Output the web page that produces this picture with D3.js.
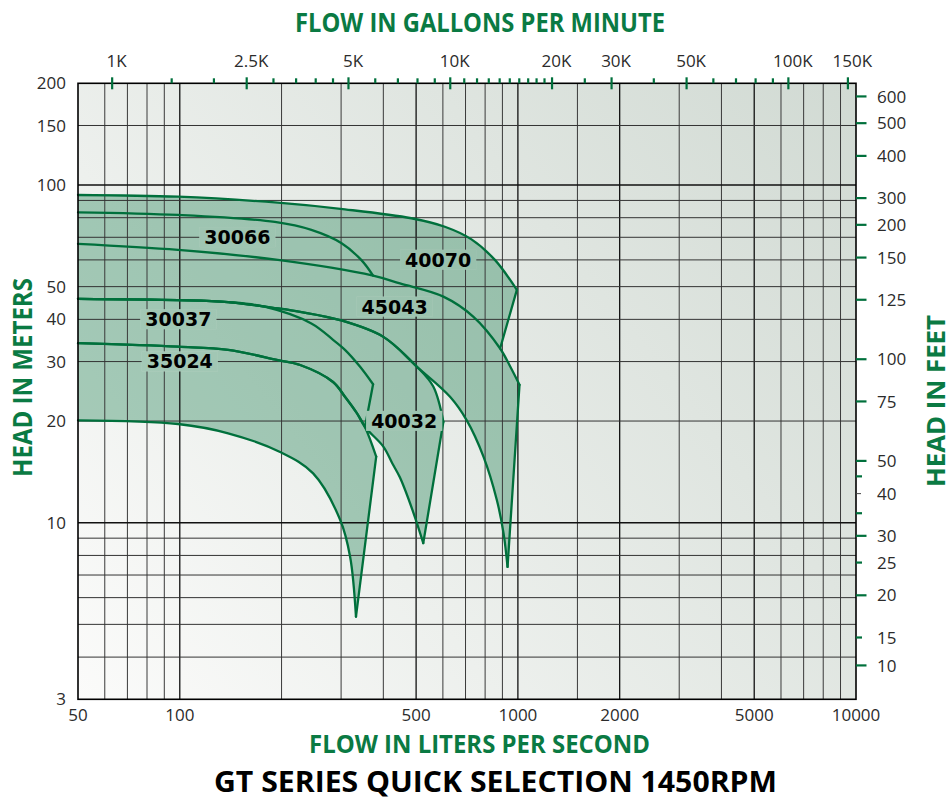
<!DOCTYPE html>
<html><head><meta charset="utf-8">
<script src="https://cdn.jsdelivr.net/npm/d3@7"></script>
<style>body{margin:0;background:#fff} svg{display:block}</style>
</head><body>
<svg id="chart" width="951" height="800"></svg>
<script>
// ---------------- DATA ----------------
const flowTicksLps = [50, 100, 500, 1000, 2000, 5000, 10000];
const headTicksM = [200, 150, 100, 50, 40, 30, 20, 10, 3];
const gridFlowLps = [60,70,80,90,100,200,300,400,500,600,700,800,900,1000,1500,2000,3000,4000,5000,6000,7000,8000,9000];
const gridHeadM = [150,100,90,80,70,60,50,40,30,20,10,9,8,7,6,5,4];
const gpmMajor = [1000, 2500, 5000, 10000, 20000, 30000, 50000, 100000, 150000];
const gpmMajorLabels = ["1K","2.5K","5K","10K","20K","30K","50K","100K","150K"];
const gpmMinor = [1500,2000,3000,3500,4000,4500,6000,7000,8000,9000,11000,12000,13000,14000,15000,16000,17000,18000,19000,25000,40000,60000,70000,80000,90000];
// right axis: where each label sits (in feet, as drawn) and its printed text
const feetTickAt = [600, 500, 400, 300, 250, 200, 150, 100, 75, 50, 45, 40, 35, 30, 25, 20, 15, 12.4];
const feetTickLabels = ["600","500","400","300","200","150","125","100","75","50","","40","","30","25","20","15","10"];

// pump curves: [flow L/s, head m]
const max40070 = [[50,93.4],[98.8,92.3],[195,88.6],[308,84.7],[484,79.7],[608,75.2],[729,69.0],[855,60.0],[993,48.9]];
const min40070 = [[50,66.9],[98.8,64.2],[195,60.0],[373,53.9],[448,51.1],[602,46.7],[739,40.7],[886,32.8]];
const max30066 = [[50,83.0],[98.8,81.5],[191,77.7],[245,73.6],[301,67.2],[344,60.0],[373,53.9]];
const min30066 = [[50,66.9],[98.8,64.2],[195,60.0],[373,53.9]];
const max45043 = [[50,66.9],[98.8,64.2],[195,60.0],[373,53.9],[448,51.1],[602,46.7],[739,40.7],[886,32.8],[949,29.0],[1011,25.6]];
const min45043 = [[50,46.0],[98.8,45.6],[139,45.0],[195,43.1],[227,42.1],[298,39.8],[400,35.5],[502,29.0],[630,23.6],[706,20.1],[791,15.7],[866,11.7],[907,9.3],[932,7.4]];
const max30037 = [[50,46.0],[98.8,45.6],[139,45.0],[178,43.6],[245,38.9],[284,34.8],[308,32.5],[341,29.0],[373,25.7]];
const min30037 = [[50,34.0],[98.8,33.2],[139,32.5],[195,30.3],[227,29.3],[284,26.1],[308,23.6],[334,21.1],[353,19.2]];
const max40032 = [[50,46.0],[98.8,45.6],[139,45.0],[195,43.1],[227,42.1],[298,39.8],[400,35.5],[502,29.0],[562,25.3],[602,19.9]];
const min40032 = [[50,34.0],[98.8,33.2],[139,32.5],[195,30.3],[227,29.3],[284,26.1],[308,23.6],[334,21.1],[353,19.2],[400,16.8],[425,15.0],[448,13.6],[491,10.7],[525,8.7]];
const max35024 = [[50,34.0],[98.8,33.2],[139,32.5],[195,30.3],[227,29.3],[284,26.1],[308,23.6],[334,21.1],[353,19.2],[381,15.7]];
const min35024 = [[50,20.1],[98.8,19.6],[139,18.4],[198,16.2],[248,14.0],[298,10.2],[319,7.93],[332,5.27]];

const modelNames = ["40070","30066","45043","30037","40032","35024"];
const labelFlow = [581, 148, 432, 99, 461, 100];
const labelHead = [60, 70, 43.6, 40, 20, 30];

const models = [
  {name:"40070", max:max40070, min:min40070},
  {name:"30066", max:max30066, min:min30066},
  {name:"45043", max:max45043, min:min45043},
  {name:"30037", max:max30037, min:min30037},
  {name:"40032", max:max40032, min:min40032},
  {name:"35024", max:max35024, min:min35024}
];

const titleTop = "FLOW IN GALLONS PER MINUTE";
const titleBottom = "FLOW IN LITERS PER SECOND";
const titleLeft = "HEAD IN METERS";
const titleRight = "HEAD IN FEET";
const mainTitle = "GT SERIES QUICK SELECTION 1450RPM";

// ---------------- DRAW ----------------
const GREEN = "#00703c", TITLE_GREEN = "#0a7a43", FILL_OP = 0.32;
const NUM_FONT = "'Open Sans', 'Noto Sans', sans-serif";
const LPS_PER_GPM = 1 / 15.85;
const M_PER_FT = 0.3048;

const svg = d3.select("#chart");
const x = d3.scaleLog().domain([50, 10000]).range([78, 856]);
const y = d3.scaleLog().domain([3, 200]).range([699.3, 83.3]);
const xG = g => x(g * LPS_PER_GPM);
const yF = f => y(f * M_PER_FT);
const X0 = x(50), X1 = x(10000), Y0 = y(200), Y1 = y(3);

const defs = svg.append("defs");
const grad = defs.append("linearGradient").attr("id","bg").attr("gradientUnits","userSpaceOnUse")
  .attr("x1",X0).attr("y1",Y1).attr("x2",X1).attr("y2",Y0);
grad.append("stop").attr("offset","0%").attr("stop-color","#fbfbfa");
grad.append("stop").attr("offset","100%").attr("stop-color","#d1dad3");

svg.append("rect").attr("x",X0).attr("y",Y0).attr("width",X1-X0).attr("height",Y1-Y0).attr("fill","url(#bg)");

const line = d3.line().x(d => x(d[0])).y(d => y(d[1])).curve(d3.curveCatmullRom.alpha(0.5));

// filled operating regions (union, uniform tint)
const fillG = svg.append("g").attr("opacity", FILL_OP);
models.forEach(m => {
  const top = line(m.max), bot = line(m.min.slice().reverse());
  fillG.append("path").attr("d", top + "L" + bot.slice(1) + "Z").attr("fill", GREEN);
});

// grid
const majorX = new Set([100,500,1000,2000,5000]);
const gridG = svg.append("g");
gridFlowLps.forEach(v => {
  gridG.append("line").attr("x1",x(v)).attr("x2",x(v)).attr("y1",Y0).attr("y2",Y1)
    .attr("stroke", majorX.has(v) ? "#111" : "#3a3a3a").attr("stroke-width", majorX.has(v) ? 1.3 : 1);
});
gridHeadM.forEach(v => {
  gridG.append("line").attr("x1",X0).attr("x2",X1).attr("y1",y(v)).attr("y2",y(v))
    .attr("stroke", (v===100||v===10) ? "#111" : "#333").attr("stroke-width", (v===100||v===10) ? 1.4 : 1);
});

// curve strokes (skip curves that are a prefix of another drawn curve)
const allCurves = [];
models.forEach(m => { allCurves.push(m.max); allCurves.push(m.min); });
const same = (p, q) => p[0] === q[0] && p[1] === q[1];
const isPrefix = (a, b) => a !== b && a.length <= b.length && a.every((p, i) => same(p, b[i])) && !(a.length === b.length && allCurves.indexOf(a) < allCurves.indexOf(b));
const strokeCurves = allCurves.filter(c => !allCurves.some(o => isPrefix(c, o)));
const curveG = svg.append("g").attr("fill","none").attr("stroke",GREEN).attr("stroke-width",2.3)
  .attr("stroke-linecap","round").attr("stroke-linejoin","round");
strokeCurves.forEach(c => curveG.append("path").attr("d", line(c)));
models.forEach(m => {
  const a = m.max[m.max.length-1], b = m.min[m.min.length-1];
  if (!same(a,b)) curveG.append("line").attr("x1",x(a[0])).attr("y1",y(a[1])).attr("x2",x(b[0])).attr("y2",y(b[1]));
});

// model labels with tinted backing
const labG = svg.append("g");
modelNames.forEach((name, i) => {
  const cx = x(labelFlow[i]), cy = y(labelHead[i]);
  const g = labG.append("g");
  const t = g.append("text").attr("x",cx).attr("y",cy).attr("dy","0.36em").attr("text-anchor","middle")
    .attr("font-family","'DejaVu Sans', sans-serif").attr("font-weight","bold").attr("font-size",19)
    .attr("fill","#000").text(name);
  const bb = t.node().getBBox();
  const px = 5, py = 1;
  g.insert("rect","text").attr("x",bb.x-px).attr("y",bb.y+py).attr("width",bb.width+2*px).attr("height",bb.height-2*py).attr("fill","url(#bg)");
  g.insert("rect","text").attr("x",bb.x-px).attr("y",bb.y+py).attr("width",bb.width+2*px).attr("height",bb.height-2*py).attr("fill",GREEN).attr("opacity",FILL_OP);
});

// border
svg.append("rect").attr("x",X0).attr("y",Y0).attr("width",X1-X0).attr("height",Y1-Y0)
  .attr("fill","none").attr("stroke","#000").attr("stroke-width",1.6);

// top GPM axis
const topG = svg.append("g").attr("stroke",GREEN).attr("stroke-width",2.2);
gpmMinor.forEach(g => topG.append("line").attr("x1",xG(g)).attr("x2",xG(g)).attr("y1",Y0-5).attr("y2",Y0));
gpmMajor.forEach(g => topG.append("line").attr("x1",xG(g)).attr("x2",xG(g)).attr("y1",Y0-6).attr("y2",Y0+6));
gpmMajor.forEach((g, i) => svg.append("text").attr("x",xG(g)+4.5).attr("y",66.5).attr("text-anchor","middle")
  .attr("font-family",NUM_FONT).attr("font-size",17).attr("fill","#2b2b2b").text(gpmMajorLabels[i]));

// bottom axis labels
flowTicksLps.forEach(v => svg.append("text").attr("x",x(v)).attr("y",721).attr("text-anchor","middle")
  .attr("font-family",NUM_FONT).attr("font-size",17).attr("fill","#2b2b2b").text(v));

// left axis labels
headTicksM.forEach(v => svg.append("text").attr("x",66).attr("y",y(v)).attr("dy","0.36em").attr("text-anchor","end")
  .attr("font-family",NUM_FONT).attr("font-size",17).attr("fill","#2b2b2b").text(v));

// right feet axis
feetTickAt.forEach((f, i) => {
  const lbl = feetTickLabels[i];
  const short = lbl === "" || (+lbl % 10 === 5 && +lbl < 50);
  const dark = lbl === "40";
  svg.append("line").attr("x1",X1).attr("x2",X1 + (dark ? 5 : short ? 6 : 10.5)).attr("y1",yF(f)).attr("y2",yF(f))
    .attr("stroke", dark ? "#444" : GREEN).attr("stroke-width", dark ? 1 : 2.2);
  if (lbl) svg.append("text").attr("x",877).attr("y",yF(f)).attr("dy","0.36em")
    .attr("font-family",NUM_FONT).attr("font-size",17).attr("fill","#2b2b2b").text(lbl);
});

// titles
const TFONT = "'Open Sans', 'Noto Sans', sans-serif";
svg.append("text").attr("x",295).attr("y",31.5).attr("textLength",370).attr("lengthAdjust","spacingAndGlyphs")
  .attr("font-family",TFONT).attr("font-weight","bold").attr("font-size",26).attr("fill",TITLE_GREEN).text(titleTop);
svg.append("text").attr("x",309).attr("y",752.5).attr("textLength",341).attr("lengthAdjust","spacingAndGlyphs")
  .attr("font-family",TFONT).attr("font-weight","bold").attr("font-size",25).attr("fill",TITLE_GREEN).text(titleBottom);
svg.append("text").attr("x",214).attr("y",792).attr("textLength",563).attr("lengthAdjust","spacingAndGlyphs")
  .attr("font-family",TFONT).attr("font-weight","bold").attr("font-size",28.5).attr("fill","#000").text(mainTitle);
svg.append("text").attr("transform","translate(31.7,477) rotate(-90)").attr("textLength",199).attr("lengthAdjust","spacingAndGlyphs")
  .attr("font-family",TFONT).attr("font-weight","bold").attr("font-size",26).attr("fill",TITLE_GREEN).text(titleLeft);
svg.append("text").attr("transform","translate(945,487) rotate(-90)").attr("textLength",172).attr("lengthAdjust","spacingAndGlyphs")
  .attr("font-family",TFONT).attr("font-weight","bold").attr("font-size",25.5).attr("fill",TITLE_GREEN).text(titleRight);
</script>
</body></html>
